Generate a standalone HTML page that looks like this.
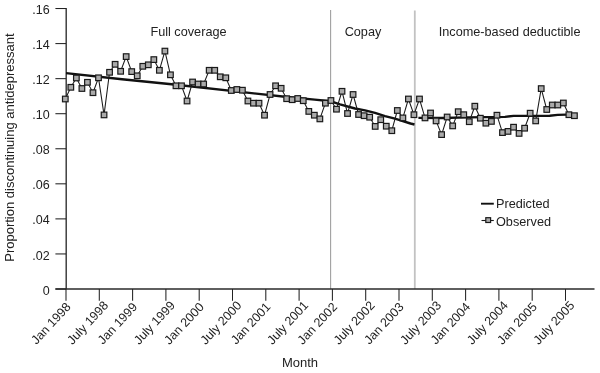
<!DOCTYPE html><html><head><meta charset="utf-8"><style>
html,body{margin:0;padding:0;background:#fff;}
svg{display:block;will-change:transform;}
text{font-family:"Liberation Sans",sans-serif;fill:#222;}
</style></head><body>
<svg width="600" height="373" viewBox="0 0 600 373">
<line x1="330.6" y1="10" x2="330.6" y2="289.0" stroke="#a0a0a0" stroke-width="1.1"/>
<line x1="414.8" y1="10.4" x2="414.8" y2="289.0" stroke="#c2c2c2" stroke-width="1.8"/>
<line x1="66.2" y1="8" x2="66.2" y2="289.0" stroke="#333" stroke-width="1.4"/>
<line x1="55.4" y1="289.0" x2="594.5" y2="289.0" stroke="#2a2a2a" stroke-width="1.5"/>
<line x1="55.4" y1="289.00" x2="66.0" y2="289.00" stroke="#222" stroke-width="1.05"/>
<text x="49.6" y="294.60" font-size="12.5" text-anchor="end">0</text>
<line x1="55.4" y1="253.94" x2="66.0" y2="253.94" stroke="#222" stroke-width="1.05"/>
<text x="49.6" y="259.54" font-size="12.5" text-anchor="end">.02</text>
<line x1="55.4" y1="218.88" x2="66.0" y2="218.88" stroke="#222" stroke-width="1.05"/>
<text x="49.6" y="224.48" font-size="12.5" text-anchor="end">.04</text>
<line x1="55.4" y1="183.82" x2="66.0" y2="183.82" stroke="#222" stroke-width="1.05"/>
<text x="49.6" y="189.42" font-size="12.5" text-anchor="end">.06</text>
<line x1="55.4" y1="148.76" x2="66.0" y2="148.76" stroke="#222" stroke-width="1.05"/>
<text x="49.6" y="154.36" font-size="12.5" text-anchor="end">.08</text>
<line x1="55.4" y1="113.70" x2="66.0" y2="113.70" stroke="#222" stroke-width="1.05"/>
<text x="49.6" y="119.30" font-size="12.5" text-anchor="end">.10</text>
<line x1="55.4" y1="78.64" x2="66.0" y2="78.64" stroke="#222" stroke-width="1.05"/>
<text x="49.6" y="84.24" font-size="12.5" text-anchor="end">.12</text>
<line x1="55.4" y1="43.58" x2="66.0" y2="43.58" stroke="#222" stroke-width="1.05"/>
<text x="49.6" y="49.18" font-size="12.5" text-anchor="end">.14</text>
<line x1="55.4" y1="8.52" x2="66.0" y2="8.52" stroke="#222" stroke-width="1.05"/>
<text x="49.6" y="14.12" font-size="12.5" text-anchor="end">.16</text>
<line x1="66.00" y1="289.0" x2="66.00" y2="300.8" stroke="#222" stroke-width="1.05"/>
<text x="71.50" y="307.50" font-size="12.5" text-anchor="end" transform="rotate(-47 71.50 307.50)">Jan 1998</text>
<line x1="99.30" y1="289.0" x2="99.30" y2="300.8" stroke="#222" stroke-width="1.05"/>
<text x="109.10" y="306.00" font-size="12.5" text-anchor="end" transform="rotate(-47 109.10 306.00)">July 1998</text>
<line x1="132.60" y1="289.0" x2="132.60" y2="300.8" stroke="#222" stroke-width="1.05"/>
<text x="138.10" y="307.50" font-size="12.5" text-anchor="end" transform="rotate(-47 138.10 307.50)">Jan 1999</text>
<line x1="165.90" y1="289.0" x2="165.90" y2="300.8" stroke="#222" stroke-width="1.05"/>
<text x="175.70" y="306.00" font-size="12.5" text-anchor="end" transform="rotate(-47 175.70 306.00)">July 1999</text>
<line x1="199.20" y1="289.0" x2="199.20" y2="300.8" stroke="#222" stroke-width="1.05"/>
<text x="204.70" y="307.50" font-size="12.5" text-anchor="end" transform="rotate(-47 204.70 307.50)">Jan 2000</text>
<line x1="232.50" y1="289.0" x2="232.50" y2="300.8" stroke="#222" stroke-width="1.05"/>
<text x="242.30" y="306.00" font-size="12.5" text-anchor="end" transform="rotate(-47 242.30 306.00)">July 2000</text>
<line x1="265.80" y1="289.0" x2="265.80" y2="300.8" stroke="#222" stroke-width="1.05"/>
<text x="271.30" y="307.50" font-size="12.5" text-anchor="end" transform="rotate(-47 271.30 307.50)">Jan 2001</text>
<line x1="299.10" y1="289.0" x2="299.10" y2="300.8" stroke="#222" stroke-width="1.05"/>
<text x="308.90" y="306.00" font-size="12.5" text-anchor="end" transform="rotate(-47 308.90 306.00)">July 2001</text>
<line x1="332.40" y1="289.0" x2="332.40" y2="300.8" stroke="#222" stroke-width="1.05"/>
<text x="337.90" y="307.50" font-size="12.5" text-anchor="end" transform="rotate(-47 337.90 307.50)">Jan 2002</text>
<line x1="365.70" y1="289.0" x2="365.70" y2="300.8" stroke="#222" stroke-width="1.05"/>
<text x="375.50" y="306.00" font-size="12.5" text-anchor="end" transform="rotate(-47 375.50 306.00)">July 2002</text>
<line x1="399.00" y1="289.0" x2="399.00" y2="300.8" stroke="#222" stroke-width="1.05"/>
<text x="404.50" y="307.50" font-size="12.5" text-anchor="end" transform="rotate(-47 404.50 307.50)">Jan 2003</text>
<line x1="432.30" y1="289.0" x2="432.30" y2="300.8" stroke="#222" stroke-width="1.05"/>
<text x="442.10" y="306.00" font-size="12.5" text-anchor="end" transform="rotate(-47 442.10 306.00)">July 2003</text>
<line x1="465.60" y1="289.0" x2="465.60" y2="300.8" stroke="#222" stroke-width="1.05"/>
<text x="471.10" y="307.50" font-size="12.5" text-anchor="end" transform="rotate(-47 471.10 307.50)">Jan 2004</text>
<line x1="498.90" y1="289.0" x2="498.90" y2="300.8" stroke="#222" stroke-width="1.05"/>
<text x="508.70" y="306.00" font-size="12.5" text-anchor="end" transform="rotate(-47 508.70 306.00)">July 2004</text>
<line x1="532.20" y1="289.0" x2="532.20" y2="300.8" stroke="#222" stroke-width="1.05"/>
<text x="537.70" y="307.50" font-size="12.5" text-anchor="end" transform="rotate(-47 537.70 307.50)">Jan 2005</text>
<line x1="565.50" y1="289.0" x2="565.50" y2="300.8" stroke="#222" stroke-width="1.05"/>
<text x="575.30" y="306.00" font-size="12.5" text-anchor="end" transform="rotate(-47 575.30 306.00)">July 2005</text>
<text x="188.5" y="36.0" font-size="12.7" text-anchor="middle">Full coverage</text>
<text x="363" y="36.0" font-size="12.7" text-anchor="middle">Copay</text>
<text x="509.6" y="36.0" font-size="12.7" text-anchor="middle">Income-based deductible</text>
<text x="300" y="367.1" font-size="13" text-anchor="middle">Month</text>
<text x="13.9" y="147.6" font-size="13" text-anchor="middle" transform="rotate(-90 13.9 147.6)">Proportion discontinuing antidepressant</text>
<polyline points="66,73.1 122,79.3 171.6,84.3 244.9,92.4 289.5,97.3 314.7,99.6 331,101.3 340,104.3 355,108.5 365,110.4 375,112.9 385,116.2 395,118.6 400.5,120.3 410.5,123.5 414.5,124.5" fill="none" stroke="#111" stroke-width="2.4" stroke-linejoin="round"/>
<polyline points="418.4,117.9 441.7,118.0 467.5,117.4 505,116.9 513.6,115.9 549.7,115.8 557.7,114.9 566.6,114.6 575.5,114.4" fill="none" stroke="#111" stroke-width="2.4" stroke-linejoin="round"/>
<polyline points="65.30,99.00 70.83,87.30 76.37,78.00 81.90,88.50 87.44,82.30 92.97,92.70 98.50,77.80 104.04,114.90 109.57,72.30 115.11,64.30 120.64,71.30 126.17,56.60 131.71,71.60 137.24,75.80 142.78,66.30 148.31,64.80 153.84,59.60 159.38,70.30 164.91,51.10 170.45,74.80 175.98,85.80 181.51,85.80 187.05,101.00 192.58,82.00 198.12,84.00 203.65,84.00 209.18,70.30 214.72,70.30 220.25,76.80 225.79,77.80 231.32,90.50 236.85,89.50 242.39,90.20 247.92,101.00 253.46,103.20 258.99,103.20 264.52,115.20 270.06,94.50 275.59,85.80 281.13,88.30 286.66,98.70 292.19,99.70 297.73,98.50 303.26,100.70 308.80,111.40 314.33,115.20 319.86,118.90 325.40,103.20 330.93,100.50 336.47,109.20 342.00,91.30 347.53,113.50 353.07,94.50 358.60,114.50 364.14,115.70 369.67,117.20 375.20,126.40 380.74,119.70 386.27,126.20 391.81,130.70 397.34,110.50 402.87,117.90 408.41,99.00 413.94,114.70 419.48,99.00 425.01,117.90 430.54,113.00 436.08,120.90 441.61,134.60 447.15,117.00 452.68,125.90 458.21,111.70 463.75,114.70 469.28,121.70 474.82,106.20 480.35,118.20 485.88,123.20 491.42,121.40 496.95,115.20 502.49,132.60 508.02,131.40 513.55,127.20 519.09,133.40 524.62,128.20 530.16,113.20 535.69,120.90 541.22,88.60 546.76,109.50 552.29,105.00 557.83,105.00 563.36,103.00 568.89,114.70 574.43,115.70" fill="none" stroke="#1a1a1a" stroke-width="1.05"/>
<rect x="62.50" y="96.20" width="5.6" height="5.6" fill="#aaaaaa" stroke="#1a1a1a" stroke-width="1.2"/>
<rect x="68.03" y="84.50" width="5.6" height="5.6" fill="#aaaaaa" stroke="#1a1a1a" stroke-width="1.2"/>
<rect x="73.57" y="75.20" width="5.6" height="5.6" fill="#aaaaaa" stroke="#1a1a1a" stroke-width="1.2"/>
<rect x="79.10" y="85.70" width="5.6" height="5.6" fill="#aaaaaa" stroke="#1a1a1a" stroke-width="1.2"/>
<rect x="84.64" y="79.50" width="5.6" height="5.6" fill="#aaaaaa" stroke="#1a1a1a" stroke-width="1.2"/>
<rect x="90.17" y="89.90" width="5.6" height="5.6" fill="#aaaaaa" stroke="#1a1a1a" stroke-width="1.2"/>
<rect x="95.70" y="75.00" width="5.6" height="5.6" fill="#aaaaaa" stroke="#1a1a1a" stroke-width="1.2"/>
<rect x="101.24" y="112.10" width="5.6" height="5.6" fill="#aaaaaa" stroke="#1a1a1a" stroke-width="1.2"/>
<rect x="106.77" y="69.50" width="5.6" height="5.6" fill="#aaaaaa" stroke="#1a1a1a" stroke-width="1.2"/>
<rect x="112.31" y="61.50" width="5.6" height="5.6" fill="#aaaaaa" stroke="#1a1a1a" stroke-width="1.2"/>
<rect x="117.84" y="68.50" width="5.6" height="5.6" fill="#aaaaaa" stroke="#1a1a1a" stroke-width="1.2"/>
<rect x="123.37" y="53.80" width="5.6" height="5.6" fill="#aaaaaa" stroke="#1a1a1a" stroke-width="1.2"/>
<rect x="128.91" y="68.80" width="5.6" height="5.6" fill="#aaaaaa" stroke="#1a1a1a" stroke-width="1.2"/>
<rect x="134.44" y="73.00" width="5.6" height="5.6" fill="#aaaaaa" stroke="#1a1a1a" stroke-width="1.2"/>
<rect x="139.98" y="63.50" width="5.6" height="5.6" fill="#aaaaaa" stroke="#1a1a1a" stroke-width="1.2"/>
<rect x="145.51" y="62.00" width="5.6" height="5.6" fill="#aaaaaa" stroke="#1a1a1a" stroke-width="1.2"/>
<rect x="151.04" y="56.80" width="5.6" height="5.6" fill="#aaaaaa" stroke="#1a1a1a" stroke-width="1.2"/>
<rect x="156.58" y="67.50" width="5.6" height="5.6" fill="#aaaaaa" stroke="#1a1a1a" stroke-width="1.2"/>
<rect x="162.11" y="48.30" width="5.6" height="5.6" fill="#aaaaaa" stroke="#1a1a1a" stroke-width="1.2"/>
<rect x="167.65" y="72.00" width="5.6" height="5.6" fill="#aaaaaa" stroke="#1a1a1a" stroke-width="1.2"/>
<rect x="173.18" y="83.00" width="5.6" height="5.6" fill="#aaaaaa" stroke="#1a1a1a" stroke-width="1.2"/>
<rect x="178.71" y="83.00" width="5.6" height="5.6" fill="#aaaaaa" stroke="#1a1a1a" stroke-width="1.2"/>
<rect x="184.25" y="98.20" width="5.6" height="5.6" fill="#aaaaaa" stroke="#1a1a1a" stroke-width="1.2"/>
<rect x="189.78" y="79.20" width="5.6" height="5.6" fill="#aaaaaa" stroke="#1a1a1a" stroke-width="1.2"/>
<rect x="195.32" y="81.20" width="5.6" height="5.6" fill="#aaaaaa" stroke="#1a1a1a" stroke-width="1.2"/>
<rect x="200.85" y="81.20" width="5.6" height="5.6" fill="#aaaaaa" stroke="#1a1a1a" stroke-width="1.2"/>
<rect x="206.38" y="67.50" width="5.6" height="5.6" fill="#aaaaaa" stroke="#1a1a1a" stroke-width="1.2"/>
<rect x="211.92" y="67.50" width="5.6" height="5.6" fill="#aaaaaa" stroke="#1a1a1a" stroke-width="1.2"/>
<rect x="217.45" y="74.00" width="5.6" height="5.6" fill="#aaaaaa" stroke="#1a1a1a" stroke-width="1.2"/>
<rect x="222.99" y="75.00" width="5.6" height="5.6" fill="#aaaaaa" stroke="#1a1a1a" stroke-width="1.2"/>
<rect x="228.52" y="87.70" width="5.6" height="5.6" fill="#aaaaaa" stroke="#1a1a1a" stroke-width="1.2"/>
<rect x="234.05" y="86.70" width="5.6" height="5.6" fill="#aaaaaa" stroke="#1a1a1a" stroke-width="1.2"/>
<rect x="239.59" y="87.40" width="5.6" height="5.6" fill="#aaaaaa" stroke="#1a1a1a" stroke-width="1.2"/>
<rect x="245.12" y="98.20" width="5.6" height="5.6" fill="#aaaaaa" stroke="#1a1a1a" stroke-width="1.2"/>
<rect x="250.66" y="100.40" width="5.6" height="5.6" fill="#aaaaaa" stroke="#1a1a1a" stroke-width="1.2"/>
<rect x="256.19" y="100.40" width="5.6" height="5.6" fill="#aaaaaa" stroke="#1a1a1a" stroke-width="1.2"/>
<rect x="261.72" y="112.40" width="5.6" height="5.6" fill="#aaaaaa" stroke="#1a1a1a" stroke-width="1.2"/>
<rect x="267.26" y="91.70" width="5.6" height="5.6" fill="#aaaaaa" stroke="#1a1a1a" stroke-width="1.2"/>
<rect x="272.79" y="83.00" width="5.6" height="5.6" fill="#aaaaaa" stroke="#1a1a1a" stroke-width="1.2"/>
<rect x="278.33" y="85.50" width="5.6" height="5.6" fill="#aaaaaa" stroke="#1a1a1a" stroke-width="1.2"/>
<rect x="283.86" y="95.90" width="5.6" height="5.6" fill="#aaaaaa" stroke="#1a1a1a" stroke-width="1.2"/>
<rect x="289.39" y="96.90" width="5.6" height="5.6" fill="#aaaaaa" stroke="#1a1a1a" stroke-width="1.2"/>
<rect x="294.93" y="95.70" width="5.6" height="5.6" fill="#aaaaaa" stroke="#1a1a1a" stroke-width="1.2"/>
<rect x="300.46" y="97.90" width="5.6" height="5.6" fill="#aaaaaa" stroke="#1a1a1a" stroke-width="1.2"/>
<rect x="306.00" y="108.60" width="5.6" height="5.6" fill="#aaaaaa" stroke="#1a1a1a" stroke-width="1.2"/>
<rect x="311.53" y="112.40" width="5.6" height="5.6" fill="#aaaaaa" stroke="#1a1a1a" stroke-width="1.2"/>
<rect x="317.06" y="116.10" width="5.6" height="5.6" fill="#aaaaaa" stroke="#1a1a1a" stroke-width="1.2"/>
<rect x="322.60" y="100.40" width="5.6" height="5.6" fill="#aaaaaa" stroke="#1a1a1a" stroke-width="1.2"/>
<rect x="328.13" y="97.70" width="5.6" height="5.6" fill="#aaaaaa" stroke="#1a1a1a" stroke-width="1.2"/>
<rect x="333.67" y="106.40" width="5.6" height="5.6" fill="#aaaaaa" stroke="#1a1a1a" stroke-width="1.2"/>
<rect x="339.20" y="88.50" width="5.6" height="5.6" fill="#aaaaaa" stroke="#1a1a1a" stroke-width="1.2"/>
<rect x="344.73" y="110.70" width="5.6" height="5.6" fill="#aaaaaa" stroke="#1a1a1a" stroke-width="1.2"/>
<rect x="350.27" y="91.70" width="5.6" height="5.6" fill="#aaaaaa" stroke="#1a1a1a" stroke-width="1.2"/>
<rect x="355.80" y="111.70" width="5.6" height="5.6" fill="#aaaaaa" stroke="#1a1a1a" stroke-width="1.2"/>
<rect x="361.34" y="112.90" width="5.6" height="5.6" fill="#aaaaaa" stroke="#1a1a1a" stroke-width="1.2"/>
<rect x="366.87" y="114.40" width="5.6" height="5.6" fill="#aaaaaa" stroke="#1a1a1a" stroke-width="1.2"/>
<rect x="372.40" y="123.60" width="5.6" height="5.6" fill="#aaaaaa" stroke="#1a1a1a" stroke-width="1.2"/>
<rect x="377.94" y="116.90" width="5.6" height="5.6" fill="#aaaaaa" stroke="#1a1a1a" stroke-width="1.2"/>
<rect x="383.47" y="123.40" width="5.6" height="5.6" fill="#aaaaaa" stroke="#1a1a1a" stroke-width="1.2"/>
<rect x="389.01" y="127.90" width="5.6" height="5.6" fill="#aaaaaa" stroke="#1a1a1a" stroke-width="1.2"/>
<rect x="394.54" y="107.70" width="5.6" height="5.6" fill="#aaaaaa" stroke="#1a1a1a" stroke-width="1.2"/>
<rect x="400.07" y="115.10" width="5.6" height="5.6" fill="#aaaaaa" stroke="#1a1a1a" stroke-width="1.2"/>
<rect x="405.61" y="96.20" width="5.6" height="5.6" fill="#aaaaaa" stroke="#1a1a1a" stroke-width="1.2"/>
<rect x="411.14" y="111.90" width="5.6" height="5.6" fill="#aaaaaa" stroke="#1a1a1a" stroke-width="1.2"/>
<rect x="416.68" y="96.20" width="5.6" height="5.6" fill="#aaaaaa" stroke="#1a1a1a" stroke-width="1.2"/>
<rect x="422.21" y="115.10" width="5.6" height="5.6" fill="#aaaaaa" stroke="#1a1a1a" stroke-width="1.2"/>
<rect x="427.74" y="110.20" width="5.6" height="5.6" fill="#aaaaaa" stroke="#1a1a1a" stroke-width="1.2"/>
<rect x="433.28" y="118.10" width="5.6" height="5.6" fill="#aaaaaa" stroke="#1a1a1a" stroke-width="1.2"/>
<rect x="438.81" y="131.80" width="5.6" height="5.6" fill="#aaaaaa" stroke="#1a1a1a" stroke-width="1.2"/>
<rect x="444.35" y="114.20" width="5.6" height="5.6" fill="#aaaaaa" stroke="#1a1a1a" stroke-width="1.2"/>
<rect x="449.88" y="123.10" width="5.6" height="5.6" fill="#aaaaaa" stroke="#1a1a1a" stroke-width="1.2"/>
<rect x="455.41" y="108.90" width="5.6" height="5.6" fill="#aaaaaa" stroke="#1a1a1a" stroke-width="1.2"/>
<rect x="460.95" y="111.90" width="5.6" height="5.6" fill="#aaaaaa" stroke="#1a1a1a" stroke-width="1.2"/>
<rect x="466.48" y="118.90" width="5.6" height="5.6" fill="#aaaaaa" stroke="#1a1a1a" stroke-width="1.2"/>
<rect x="472.02" y="103.40" width="5.6" height="5.6" fill="#aaaaaa" stroke="#1a1a1a" stroke-width="1.2"/>
<rect x="477.55" y="115.40" width="5.6" height="5.6" fill="#aaaaaa" stroke="#1a1a1a" stroke-width="1.2"/>
<rect x="483.08" y="120.40" width="5.6" height="5.6" fill="#aaaaaa" stroke="#1a1a1a" stroke-width="1.2"/>
<rect x="488.62" y="118.60" width="5.6" height="5.6" fill="#aaaaaa" stroke="#1a1a1a" stroke-width="1.2"/>
<rect x="494.15" y="112.40" width="5.6" height="5.6" fill="#aaaaaa" stroke="#1a1a1a" stroke-width="1.2"/>
<rect x="499.69" y="129.80" width="5.6" height="5.6" fill="#aaaaaa" stroke="#1a1a1a" stroke-width="1.2"/>
<rect x="505.22" y="128.60" width="5.6" height="5.6" fill="#aaaaaa" stroke="#1a1a1a" stroke-width="1.2"/>
<rect x="510.75" y="124.40" width="5.6" height="5.6" fill="#aaaaaa" stroke="#1a1a1a" stroke-width="1.2"/>
<rect x="516.29" y="130.60" width="5.6" height="5.6" fill="#aaaaaa" stroke="#1a1a1a" stroke-width="1.2"/>
<rect x="521.82" y="125.40" width="5.6" height="5.6" fill="#aaaaaa" stroke="#1a1a1a" stroke-width="1.2"/>
<rect x="527.36" y="110.40" width="5.6" height="5.6" fill="#aaaaaa" stroke="#1a1a1a" stroke-width="1.2"/>
<rect x="532.89" y="118.10" width="5.6" height="5.6" fill="#aaaaaa" stroke="#1a1a1a" stroke-width="1.2"/>
<rect x="538.42" y="85.80" width="5.6" height="5.6" fill="#aaaaaa" stroke="#1a1a1a" stroke-width="1.2"/>
<rect x="543.96" y="106.70" width="5.6" height="5.6" fill="#aaaaaa" stroke="#1a1a1a" stroke-width="1.2"/>
<rect x="549.49" y="102.20" width="5.6" height="5.6" fill="#aaaaaa" stroke="#1a1a1a" stroke-width="1.2"/>
<rect x="555.03" y="102.20" width="5.6" height="5.6" fill="#aaaaaa" stroke="#1a1a1a" stroke-width="1.2"/>
<rect x="560.56" y="100.20" width="5.6" height="5.6" fill="#aaaaaa" stroke="#1a1a1a" stroke-width="1.2"/>
<rect x="566.09" y="111.90" width="5.6" height="5.6" fill="#aaaaaa" stroke="#1a1a1a" stroke-width="1.2"/>
<rect x="571.63" y="112.90" width="5.6" height="5.6" fill="#aaaaaa" stroke="#1a1a1a" stroke-width="1.2"/>
<line x1="481" y1="203.7" x2="493.8" y2="203.7" stroke="#111" stroke-width="1.9"/>
<text x="496" y="207.6" font-size="12.7">Predicted</text>
<line x1="481.5" y1="220.5" x2="493.8" y2="220.5" stroke="#1a1a1a" stroke-width="1.1"/>
<rect x="485.8" y="217.7" width="4.8" height="4.8" fill="#aaaaaa" stroke="#1a1a1a" stroke-width="1.2"/>
<text x="496" y="225.9" font-size="12.7">Observed</text>
</svg></body></html>
